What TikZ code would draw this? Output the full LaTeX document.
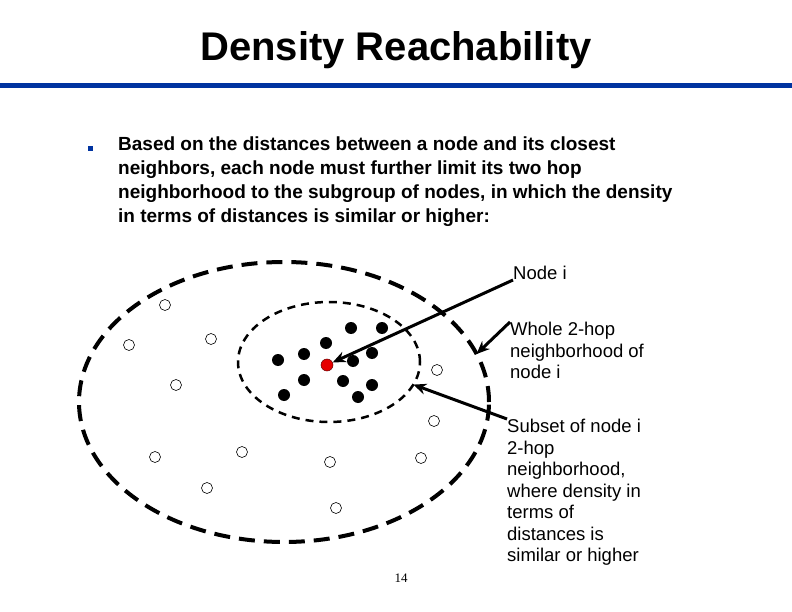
\documentclass[tikz,border=0pt]{standalone}
\usepackage{fontspec}
\setmainfont{Liberation Sans}
\newfontfamily\pagefont{Liberation Serif}
\usetikzlibrary{shapes.geometric,arrows.meta}
\definecolor{slideblue}{RGB}{0,51,160}
\definecolor{dotred}{RGB}{230,0,0}
\tikzset{
  dense/.style={circle,fill=black,inner sep=0pt,minimum size=12pt},
  sparse/.style={circle,draw=black,fill=white,line width=0.6pt,inner sep=0pt,minimum size=11pt},
  zone/.style={ellipse,draw=black,inner sep=0pt,outer sep=0pt},
  tag/.style={inner sep=0pt,align=left,font=\fontsize{18.5}{21.5}\selectfont},
  pointer/.style={line width=3pt,-{Stealth[length=13pt,width=11pt]}}
}
\begin{document}
\begin{tikzpicture}[x=1pt,y=-1pt]
  \useasboundingbox (0,0) rectangle (792,612);
  \node[font=\bfseries\fontsize{40}{42}\selectfont] (title) at (396,50) {Density Reachability};
  \draw[slideblue,line width=5pt] (0,86) -- (792,86);
  \node[fill=slideblue,inner sep=0pt,minimum size=5pt] (bullet) at (90,149) {};
  \node[anchor=north west,inner sep=0pt,align=left,font=\bfseries\fontsize{19}{24}\selectfont] (body) at (118,137)
    {Based on the distances between a node and its closest\\
     neighbors, each node must further limit its two hop\\
     neighborhood to the subgroup of nodes, in which the density\\
     in terms of distances is similar or higher:};
  % the two neighborhoods
  \node[zone,line width=4pt,dash pattern=on 16pt off 9pt,minimum width=410pt,minimum height=280pt] (outer) at (284,402) {};
  \node[zone,line width=2.5pt,dash pattern=on 8pt off 6pt,minimum width=182pt,minimum height=120pt] (inner) at (329,362) {};
  % nodes
  \foreach \x/\y [count=\i] in {351/328,382/328,326/343,304/354,278/360,353/361,372/353,304/380,343/381,372/385,284/395,358/397}
    \node[dense] (d\i) at (\x,\y) {};
  \foreach \x/\y [count=\i] in {165/305,129/345,211/339,176/385,437/370,434/421,155/457,242/452,330/462,421/458,207/488,336/508}
    \node[sparse] (h\i) at (\x,\y) {};
  \node[dense,fill=dotred,draw=black!60!red,line width=0.5pt] (ni) at (327,365) {};
  % labels
  \node[tag,anchor=south west] (nodei) at (513,280) {Node i};
  \node[tag,anchor=north west] (whole) at (510,322) {Whole 2-hop\\neighborhood of\\node i};
  \node[tag,anchor=north west] (subset) at (507,419) {Subset of node i\\2-hop\\neighborhood,\\where density in\\terms of\\distances is\\similar or higher};
  \draw[pointer] (nodei.south west) -- (ni);
  \draw[pointer] (whole.north west) -- (outer.14);
  \draw[pointer] (subset.north west) -- (inner.-15);
  \node[font=\pagefont\fontsize{13}{14}\selectfont] (page) at (401,578) {14};
\end{tikzpicture}
\end{document}
